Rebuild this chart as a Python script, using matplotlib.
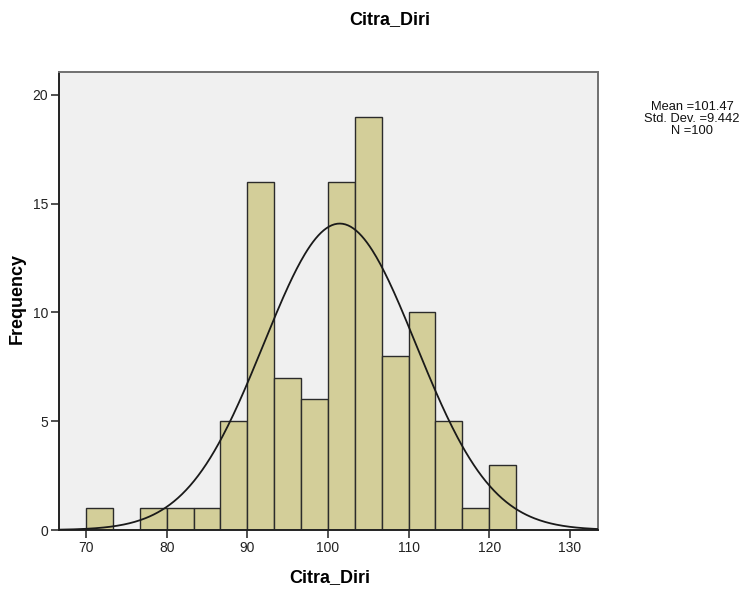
import numpy as np
import matplotlib.pyplot as plt

# Histogram of Citra_Diri (SPSS style)
bin_start = 70.0
bin_width = 10.0 / 3.0
counts = [1, 0, 1, 1, 1, 5, 16, 7, 6, 16, 19, 8, 10, 5, 1, 3]

mean = 101.47
std_dev = 9.442
n_obs = 100

x_ticks = [70, 80, 90, 100, 110, 120, 130]
y_ticks = [0, 5, 10, 15, 20]

plt.rcParams['font.family'] = ['Liberation Sans', 'DejaVu Sans']

fig = plt.figure(figsize=(7.48, 5.91), dpi=100)
ax = fig.add_axes([59 / 748, 61 / 591, 539 / 748, 458 / 591])
ax.set_facecolor('#f0f0f0')

edges = bin_start + bin_width * np.arange(len(counts) + 1)
ax.hist(edges[:-1] + bin_width / 2, bins=edges, weights=counts,
        color='#d3ce99', edgecolor='#2b2b2b', linewidth=1.0, zorder=2)

# Normal curve scaled to counts
xs = np.linspace(66.65, 133.5, 400)
ys = n_obs * bin_width / (std_dev * np.sqrt(2 * np.pi)) * np.exp(-0.5 * ((xs - mean) / std_dev) ** 2)
ax.plot(xs, ys, color='#1a1a1a', linewidth=1.3, zorder=3)

ax.set_xlim(66.65, 133.5)
ax.set_ylim(0, 21.05)
ax.set_xticks(x_ticks)
ax.set_yticks(y_ticks)
ax.tick_params(labelsize=10, length=6, width=1.2, pad=2, color='#333333', labelcolor='#222222')

for side in ['left', 'bottom']:
    ax.spines[side].set_color('#222222')
    ax.spines[side].set_linewidth(1.4)
for side in ['top', 'right']:
    ax.spines[side].set_color('#707070')
    ax.spines[side].set_linewidth(1.4)

ax.set_xlabel('Citra_Diri', fontsize=13, fontweight='bold')
ax.xaxis.set_label_coords((330 - 59) / 539, -(569 - 530) / 458)
ax.set_ylabel('Frequency', fontsize=13, fontweight='bold')
ax.yaxis.set_label_coords(-(59 - 26) / 539, (530 - 298) / 458)

fig.text(390 / 748, 1 - 20 / 591, 'Citra_Diri', fontsize=13, fontweight='bold',
         ha='center', va='center')

fig.text(692 / 748, 1 - 119 / 591,
         'Mean =%.2f\nStd. Dev. =%.3f\nN =%d' % (mean, std_dev, n_obs),
         fontsize=9.3, ha='center', va='center', linespacing=1.0, color='#111111')

fig.savefig('out.png', dpi=100)
